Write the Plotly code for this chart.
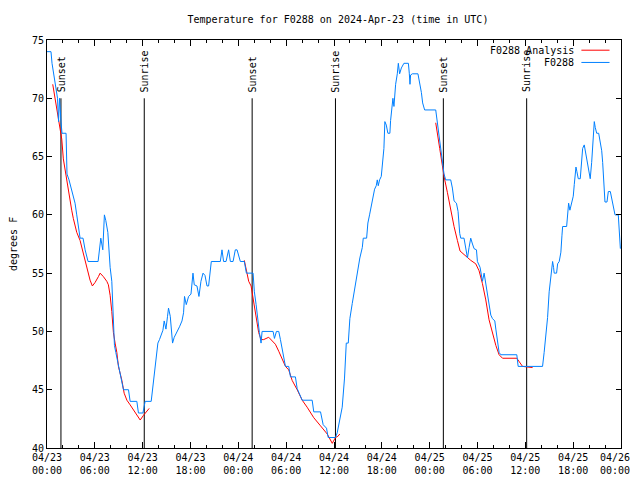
import pandas as pd
import plotly.graph_objects as go

# ---- data (hours since 2024-04-23 00:00 UTC, temperature in F) ----
obs_hours = [0.00, 0.50, 0.63, 0.88, 1.13, 1.32, 1.45, 1.57, 1.76, 1.88, 2.39, 2.51, 2.76, 3.14, 3.52,
             3.73, 3.93, 4.15, 4.52, 4.78, 5.15, 6.41, 6.75, 6.91, 7.00, 7.20, 7.38, 7.63, 7.79, 7.92,
             8.13, 8.26, 8.33, 8.46, 8.63, 8.88, 9.09, 9.30, 9.59, 10.22, 10.43, 11.27, 11.47, 12.03,
             12.19, 12.31, 13.07, 13.28, 13.48, 13.70, 13.91, 14.11, 14.33, 14.54, 14.70, 14.92, 15.12,
             15.24, 15.46, 15.58, 15.75, 15.96, 16.30, 16.62, 16.93, 17.13, 17.25, 17.47, 17.76, 18.06,
             18.31, 18.47, 18.81, 19.06, 19.31, 19.57, 19.82, 20.07, 20.27, 20.48, 20.61, 21.74, 21.95,
             22.15, 22.46, 22.78, 23.00, 23.34, 23.62, 23.84, 24.25, 24.75, 25.01, 25.85, 26.01, 26.23,
             26.43, 26.64, 26.85, 26.98, 28.36, 28.53, 28.78, 29.07, 29.28, 29.49, 29.78, 29.91, 30.32,
             30.54, 31.16, 31.38, 32.01, 33.26, 33.46, 34.31, 34.64, 35.06, 35.27, 36.19, 36.40, 36.69,
             37.03, 37.32, 37.54, 37.79, 37.99, 38.29, 38.58, 38.92, 39.24, 39.55, 39.67, 40.09, 40.25,
             40.46, 40.68, 40.88, 41.09, 41.30, 41.43, 41.55, 41.72, 41.93, 42.13, 42.26, 42.38, 42.56,
             42.76, 43.01, 43.10, 43.23, 43.39, 43.52, 43.73, 43.94, 44.07, 44.23, 44.45, 44.77, 45.33,
             45.45, 45.53, 45.61, 45.83, 46.53, 46.78, 46.96, 47.12, 47.37, 48.76, 48.88, 49.05, 49.26,
             49.47, 49.67, 49.80, 50.01, 50.64, 50.85, 51.06, 51.36, 51.56, 51.77, 51.90, 52.31, 52.53,
             52.74, 52.94, 53.15, 53.37, 53.57, 53.87, 53.99, 54.32, 54.62, 54.83, 55.04, 55.25, 55.45,
             55.67, 55.88, 56.17, 56.30, 56.51, 56.71, 56.92, 58.93, 59.10, 62.16, 62.36, 62.58, 62.79,
             62.99, 63.21, 63.42, 63.54, 63.62, 63.92, 64.05, 64.25, 64.46, 64.59, 64.68, 65.18, 65.31,
             65.43, 65.59, 65.81, 66.01, 66.14, 66.35, 66.47, 66.64, 66.89, 67.06, 67.19, 67.39, 67.60,
             67.82, 68.02, 68.14, 68.32, 68.52, 68.65, 68.77, 68.95, 69.20, 69.36, 69.58, 69.70, 69.83,
             69.99, 70.24, 70.41, 70.66, 70.87, 71.04, 71.25, 71.66, 71.79, 71.92]
obs_temps = [74, 74, 73, 72, 71, 70, 68, 70, 68, 67, 67, 63.5, 63, 62, 61,
             60, 59, 58, 58, 57, 56, 56, 58, 57.5, 57, 60, 59.5, 58.5, 56.6, 55.5,
             54.3, 52.3, 51, 48.8, 48.2, 47.3, 46.7, 45.9, 45, 45, 44, 44, 43, 43,
             43.8, 44, 44, 45.3, 46.4, 47.9, 49, 49.3, 49.7, 50.1, 50.9, 50.2, 51.3,
             52, 51.3, 50.5, 49, 49.5, 49.9, 50.4, 50.9, 51.6, 53, 52.3, 53, 53.2,
             55, 54, 53.9, 53, 54.3, 55, 54.8, 53.9, 53.9, 55.5, 56, 56, 57,
             56, 56, 57, 56, 56, 57, 57, 56, 56, 55, 55, 53.4, 52.3,
             50.9, 49.9, 49, 50, 50, 49.4, 50, 50, 49.3, 48.5, 47.6, 47, 47,
             46.1, 46.1, 45.1, 44.1, 44.1, 43.1, 43.1, 42, 41.7, 40.9, 40.9, 41.3, 42.3,
             43.5, 46, 49, 49, 51.1, 52.4, 53.7, 55, 56.3, 57.2, 58, 58, 59.3,
             60, 60.9, 61.7, 62.2, 62.5, 63, 62.5, 63, 63.3, 64.8, 65.7, 68, 67.7,
             67, 67, 68.1, 69.3, 70, 69.3, 71.2, 72.1, 73, 72.1, 72.6, 73, 73,
             72.1, 71.2, 72, 72.1, 72.1, 71.2, 70.5, 69.6, 69, 69, 68.4, 67.4, 66.7,
             65.5, 64.6, 63.5, 63, 63, 62.3, 61.2, 61, 60.3, 58.4, 58, 58, 57.2,
             56.3, 57.2, 58, 57.5, 57.1, 57, 56, 55.5, 54.3, 55, 54, 53.3, 52.3,
             51.4, 51.1, 50.9, 50.2, 49.3, 48.2, 48, 48, 47, 47, 48.2, 49.6, 51.2,
             53.4, 54.6, 56, 55.5, 55, 55, 55.8, 56, 56.8, 58.2, 59, 59, 60.1,
             61, 60.4, 61, 61.6, 62.6, 64.1, 63.7, 63.1, 63.1, 64.5, 65.7, 66, 65.1,
             64.2, 63.5, 63.1, 64.5, 66.3, 68, 67.5, 67, 67, 66.3, 65.5, 64.5, 62.5,
             61.1, 61.1, 62, 62, 61.3, 60.8, 60, 60, 58.4, 57.1]

ana_hours = [0.72, 1.01, 1.42, 1.85, 2.05, 2.39, 2.68, 3.10, 3.30, 3.73, 4.15, 4.56, 4.99, 5.40, 5.69,
             6.03, 6.45, 6.66, 7.07, 7.50, 7.70, 7.92, 8.13, 8.33, 8.54, 8.76, 8.96, 9.17, 9.39, 9.68,
             10.02, 10.43, 10.84, 11.27, 11.69, 12.10, 12.44, 12.82, None,
             24.75, 25.01, 25.30, 25.60, 25.85, 26.01, 26.35, 26.55, 26.85, 27.18, 27.81, 28.24, 28.65,
             29.07, 29.49, 29.91, 30.32, 30.75, 31.38, 32.01, 32.63, 33.46, 34.31, 35.15, 35.78, 36.19,
             36.48, 36.73, None,
             48.76, 48.97, 49.26, 49.60, 49.80, 50.23, 50.64, 51.06, 51.48, 51.81, 52.31, 52.74, 53.15,
             53.78, 54.20, 54.62, 55.04, 55.45, 55.88, 56.30, 56.71, 57.14, 58.93, 59.22, 59.65, 60.91]
ana_temps = [71.2, 70, 68.3, 66.5, 64.8, 63.3, 61.9, 60.4, 59.7, 58.5, 57.8, 56.6, 55.5, 54.4, 53.9,
             54.2, 54.7, 55, 54.7, 54.3, 54, 53.1, 51.7, 49.9, 49, 48.2, 47, 46.5, 45.8, 44.7,
             44.1, 43.7, 43.3, 42.8, 42.4, 42.8, 43.1, 43.4, None,
             56.1, 55.2, 54.3, 53.9, 52.8, 52.3, 50.8, 49.9, 49.3, 49.3, 49.5, 49.2, 48.9,
             48.3, 47.7, 47, 46.7, 45.8, 45, 44.1, 43.5, 42.6, 41.9, 41.2, 40.4, 40.9,
             41, 41.2, None,
             67.9, 67.1, 65.7, 64.2, 63.3, 61.9, 60.4, 59, 57.8, 56.9, 56.6, 56.3, 56.1,
             55.8, 55.2, 54.1, 52.7, 51, 49.8, 48.8, 48, 47.7, 47.7, 47.4, 47, 46.9]

sunset_times = ["2024-04-23 01:45", "2024-04-24 01:44", "2024-04-25 01:43"]
sunrise_times = ["2024-04-23 12:12", "2024-04-24 12:11", "2024-04-25 12:10"]

tick_times = pd.date_range("2024-04-23 00:00", "2024-04-26 00:00", freq="6h")
tick_labels = [t.strftime("%m/%d<br>%H:%M") for t in tick_times]

base = pd.Timestamp("2024-04-23 00:00")
obs_x = [base + pd.Timedelta(hours=h) for h in obs_hours]
ana_x = [None if h is None else base + pd.Timedelta(hours=h) for h in ana_hours]

RED = "#ff0000"
BLUE = "#0080ff"
FONT = "DejaVu Sans Mono"

fig = go.Figure()
fig.add_trace(go.Scatter(x=ana_x, y=ana_temps, mode="lines", name="F0288 Analysis",
                         line=dict(color=RED, width=1), connectgaps=False))
fig.add_trace(go.Scatter(x=obs_x, y=obs_temps, mode="lines", name="F0288",
                         line=dict(color=BLUE, width=1)))

for label, times in (("Sunset", sunset_times), ("Sunrise", sunrise_times)):
    for t in times:
        fig.add_shape(type="line", xref="x", yref="y", x0=t, x1=t, y0=40, y1=70,
                      line=dict(color="black", width=1), layer="below")
        fig.add_annotation(x=t, y=70, xref="x", yref="y", text=label, textangle=-90,
                           showarrow=False, xanchor="center", yanchor="bottom", yshift=4,
                           font=dict(family=FONT, size=10, color="black"))

# legend drawn gnuplot-style (text left, line sample right)
legend_items = [("F0288 Analysis", RED, 0.975), ("F0288", BLUE, 0.945)]
for name, col, yy in legend_items:
    fig.add_annotation(x=0.921, y=yy, xref="paper", yref="paper", text=name, showarrow=False,
                       xanchor="right", yanchor="middle", font=dict(family=FONT, size=10, color="black"))
    fig.add_shape(type="line", xref="paper", yref="paper", x0=0.931, x1=0.980, y0=yy, y1=yy,
                  line=dict(color=col, width=1))

# last tick label drawn as an annotation nudged left so it is not cut at the page edge
fig.add_annotation(x=tick_times[-1], y=0, xref="x", yref="paper", text=tick_labels[-1],
                   showarrow=False, xanchor="center", yanchor="top", xshift=-6, yshift=-2,
                   font=dict(family=FONT, size=10, color="black"))
shown_labels = tick_labels[:-1] + [""]

# y-axis title as rotated annotation, placed like gnuplot's
fig.add_annotation(x=0, y=0.5, xref="paper", yref="paper", text="degrees F", textangle=-90,
                   showarrow=False, xanchor="center", yanchor="middle", xshift=-34,
                   font=dict(family=FONT, size=10, color="black"))

# page body has an 8px margin, so the figure is sized/margined to land the plot box at 47..621 x 40..440
fig.update_layout(
    width=632, height=472,
    margin=dict(l=39, r=19, t=32, b=32, autoexpand=False),
    paper_bgcolor="white", plot_bgcolor="white",
    showlegend=False,
    font=dict(family=FONT, size=10, color="black"),
    title=dict(text="Temperature for F0288 on 2024-Apr-23 (time in UTC)", x=0.522, xanchor="center",
               y=0.975, yanchor="middle", yref="container", font=dict(family=FONT, size=10)),
)
fig.update_xaxes(
    range=["2024-04-23 00:00", "2024-04-26 00:00"],
    tickvals=tick_times, ticktext=shown_labels,
    showgrid=False, zeroline=False, automargin=False, ticklabeloverflow="allow",
    showline=True, linecolor="black", linewidth=1, mirror="allticks",
    ticks="inside", ticklen=6, tickcolor="black", tickwidth=1,
    minor=dict(dtick=2 * 3600 * 1000, ticks="inside", ticklen=3, tickcolor="black", tickwidth=1),
    tickfont=dict(family=FONT, size=10),
)
fig.update_yaxes(
    range=[40, 75], tickvals=[40, 45, 50, 55, 60, 65, 70, 75],
    showgrid=False, zeroline=False, automargin=False,
    showline=True, linecolor="black", linewidth=1, mirror="allticks",
    ticks="inside", ticklen=5, tickcolor="black", tickwidth=1,
    tickfont=dict(family=FONT, size=10),
)

fig.write_html("out.html")
